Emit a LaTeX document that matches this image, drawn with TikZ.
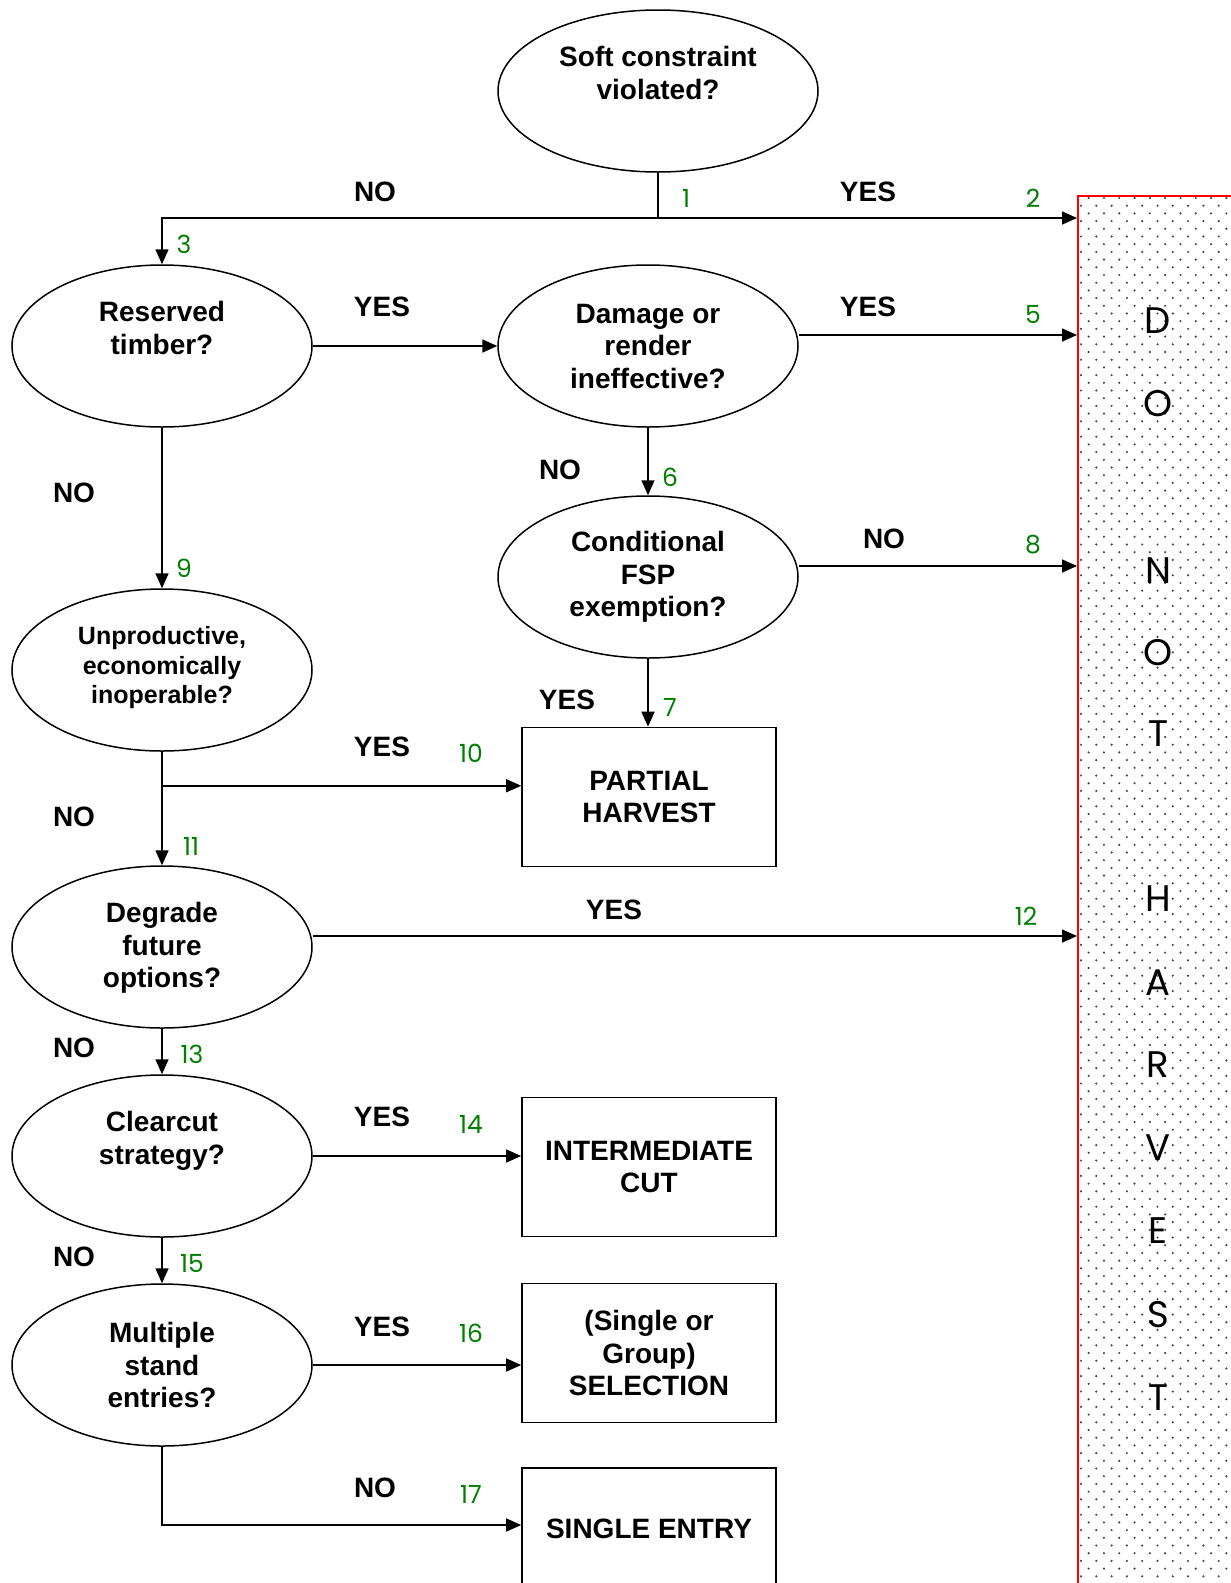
\documentclass[tikz,border=0pt]{standalone}
\usepackage{fontspec}
\setmainfont{Liberation Sans}
\newfontfamily\geofont{Poppins}
\usetikzlibrary{shapes.geometric}
\usetikzlibrary{arrows.meta}
\usetikzlibrary{positioning}
\definecolor{numgreen}{RGB}{0,128,0}
\definecolor{dotgray}{RGB}{70,70,70}

\tikzset{
  question/.style={ellipse, draw, line width=1.5pt, minimum width=300pt, minimum height=162pt,
    inner sep=0pt, align=center, font=\bfseries\fontsize{28}{32.5}\selectfont},
  twoline/.style={text depth=36pt},
  outcome/.style={rectangle, draw, line width=1.6pt, minimum width=254pt, minimum height=139pt,
    align=center, font=\bfseries\fontsize{28}{32.5}\selectfont},
  answer/.style={font=\bfseries\fontsize{28}{30}\selectfont},
  num/.style={text=numgreen, font=\geofont\fontsize{25}{27}\selectfont},
  flow/.style={line width=1.6pt, -{Triangle[length=15pt,width=13pt]}},
}

\begin{document}
\begin{tikzpicture}[x=1pt,y=-1pt]
\useasboundingbox (0,0) rectangle (1231,1583);

% do not harvest column
\begin{scope}
\clip (1078,196) rectangle (1231,1583);
\foreach \j in {0,...,181} {
  \pgfmathsetmacro\off{mod(\j+1,2)*7.65}
  \foreach \i in {0,...,10}
    \fill [dotgray] ({1081+\off+\i*15.3},{198+\j*7.7}) circle (1.2pt);
}
\end{scope}
\node [draw=red, line width=1.6pt, minimum width=200pt, minimum height=1420pt,
  anchor=north west, inner sep=0pt] (nh) at (1077,195) {};
\foreach \ch/\yy in {D/321, O/404, N/571, O/653, T/734, H/899, A/983, R/1065, V/1148, E/1231, S/1315, T/1398}
  \node [font=\geofont\fontsize{37}{40}\selectfont] (let\yy) at (1158,\yy) {\ch};

% questions
\node [question, twoline, minimum width=320pt] (soft) at (658,91) {Soft constraint\\violated?};
\node [question, twoline] (resv) at (162,346) {Reserved\\timber?};
\node [question] (dmg) at (648,346) {Damage or\\render\\ineffective?};
\node [question] (cond) at (648,577) {Conditional\\FSP\\exemption?};
\node [question, font=\bfseries\fontsize{25}{29.5}\selectfont, text depth=10pt] (unpr) at (162,670) {Unproductive,\\economically\\inoperable?};
\node [question, text depth=4pt] (degr) at (162,947) {Degrade\\future\\options?};
\node [question, twoline] (clear) at (162,1156) {Clearcut\\strategy?};
\node [question] (multi) at (162,1365) {Multiple\\stand\\entries?};

% outcomes
\node [outcome] (part) at (649,797) {PARTIAL\\HARVEST};
\node [outcome] (inter) at (649,1167) {INTERMEDIATE\\CUT};
\node [outcome] (sel) at (649,1353) {(Single or\\Group)\\SELECTION};
\node [outcome, minimum height=122pt] (single) at (649,1529) {SINGLE ENTRY};

% connectors
\coordinate (split) at (658,218);
\draw [line width=1.6pt] (soft.south) -- (split);
\draw [flow] (split) -| (resv.north);
\draw [flow] (split) -- (split -| nh.west);
\draw [flow] (resv.east) -- (dmg.west);
\draw [flow] ([yshift=11pt]dmg.east) -- ([yshift=11pt]dmg.east -| nh.west);
\draw [flow] (dmg.south) -- (cond.north);
\draw [flow] ([yshift=11pt]cond.east) -- ([yshift=11pt]cond.east -| nh.west);
\draw [flow] (cond.south) -- (cond.south |- part.north);
\draw [flow] (resv.south) -- (unpr.north);
\draw [flow] (unpr.south) -- (degr.north);
\draw [flow] ([yshift=-34pt]unpr.south) -- ([yshift=-34pt]unpr.south -| part.west);
\draw [flow] ([yshift=11pt]degr.east) -- ([yshift=11pt]degr.east -| nh.west);
\draw [flow] (degr.south) -- (clear.north);
\draw [flow] (clear.east) -- (clear.east -| inter.west);
\draw [flow] (clear.south) -- (multi.north);
\draw [flow] (multi.east) -- (multi.east -| sel.west);
\draw [flow] (multi.south) |- ([yshift=4pt]single.west);

% answers
\node [answer] (a1) at (375,192) {NO};
\node [answer] (a2) at (868,192) {YES};
\node [answer] (a3) at (382,307) {YES};
\node [answer] (a4) at (868,307) {YES};
\node [answer] (a5) at (560,470) {NO};
\node [answer] (a6) at (884,539) {NO};
\node [answer] (a7) at (567,700) {YES};
\node [answer] (a8) at (74,493) {NO};
\node [answer] (a9) at (382,747) {YES};
\node [answer] (a10) at (74,817) {NO};
\node [answer] (a11) at (614,910) {YES};
\node [answer] (a12) at (74,1048) {NO};
\node [answer] (a13) at (382,1117) {YES};
\node [answer] (a14) at (74,1257) {NO};
\node [answer] (a15) at (382,1327) {YES};
\node [answer] (a16) at (375,1488) {NO};

% link numbers
\foreach \n/\xx/\yy in {1/686/198, 2/1033/198, 3/184/244, 5/1033/314, 6/670/477, 7/670/707,
  8/1033/545, 9/184/568, 10/471/753, 11/191/846, 12/1026/916, 13/192/1054,
  14/471/1124, 15/192/1263, 16/471/1333, 17/471/1494}
  \node [num] (n\n) at (\xx,\yy) {\n};
\end{tikzpicture}
\end{document}
